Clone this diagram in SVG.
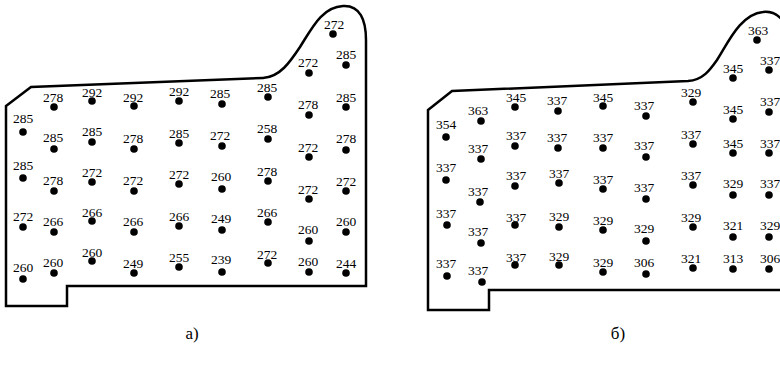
<svg xmlns="http://www.w3.org/2000/svg" width="780" height="371" viewBox="0 0 780 371">
<style>
.o{fill:none;stroke:#000;stroke-width:2.5;stroke-linejoin:miter}
.d{fill:#000}
text{font-family:"Liberation Serif","Times New Roman",serif;font-size:13.5px;fill:#000;text-anchor:middle}
.cap{font-size:17px}
</style>
<rect width="780" height="371" fill="#fff"/>
<g id="outline-a"><path class="o" d="M6,106 L31,87 L263,78 C280,77 290,62 300,47 C312,28 322,7 343,6 C360,5 366,20 366,40 L366,286 L67,286 L67,306 L6,306 Z"/></g>
<g id="outline-b"><path class="o" d="M428,110 L452,91 L688,81 C703,80 710,70 717,60 C727,45 740,14 763,12 C772,11 778,14 784,22 L790,30 L790,290 L489,290 L489,310 L428,310 Z"/></g>
<g id="panel-a">
<g id="a1"><circle class="d" cx="54" cy="107" r="3.8"/><text x="53" y="101.5">278</text></g>
<g id="a2"><circle class="d" cx="92" cy="101" r="3.8"/><text x="92" y="96.5">292</text></g>
<g id="a3"><circle class="d" cx="134" cy="106" r="3.8"/><text x="133" y="101.5">292</text></g>
<g id="a4"><circle class="d" cx="179" cy="101" r="3.8"/><text x="179" y="95.5">292</text></g>
<g id="a5"><circle class="d" cx="222" cy="104" r="3.8"/><text x="220" y="97.5">285</text></g>
<g id="a6"><circle class="d" cx="268" cy="97" r="3.8"/><text x="267" y="91.5">285</text></g>
<g id="a7"><circle class="d" cx="333" cy="34" r="3.8"/><text x="334" y="28.5">272</text></g>
<g id="a8"><circle class="d" cx="346" cy="65" r="3.8"/><text x="346" y="58.5">285</text></g>
<g id="a9"><circle class="d" cx="309" cy="73" r="3.8"/><text x="308" y="66.5">272</text></g>
<g id="a10"><circle class="d" cx="346" cy="107" r="3.8"/><text x="346" y="101.5">285</text></g>
<g id="a11"><circle class="d" cx="309" cy="115" r="3.8"/><text x="308" y="108.5">278</text></g>
<g id="a12"><circle class="d" cx="23" cy="132" r="3.8"/><text x="23" y="122.5">285</text></g>
<g id="a13"><circle class="d" cx="54" cy="149" r="3.8"/><text x="53" y="141.5">285</text></g>
<g id="a14"><circle class="d" cx="92" cy="142" r="3.8"/><text x="92" y="135.5">285</text></g>
<g id="a15"><circle class="d" cx="134" cy="149" r="3.8"/><text x="133" y="142.5">278</text></g>
<g id="a16"><circle class="d" cx="179" cy="143" r="3.8"/><text x="179" y="137.5">285</text></g>
<g id="a17"><circle class="d" cx="222" cy="146" r="3.8"/><text x="220" y="139.5">272</text></g>
<g id="a18"><circle class="d" cx="268" cy="139" r="3.8"/><text x="267" y="132.5">258</text></g>
<g id="a19"><circle class="d" cx="346" cy="150" r="3.8"/><text x="346" y="142.5">278</text></g>
<g id="a20"><circle class="d" cx="309" cy="157" r="3.8"/><text x="308" y="151.5">272</text></g>
<g id="a21"><circle class="d" cx="23" cy="178" r="3.8"/><text x="23" y="169.5">285</text></g>
<g id="a22"><circle class="d" cx="54" cy="191" r="3.8"/><text x="53" y="184.5">278</text></g>
<g id="a23"><circle class="d" cx="92" cy="182" r="3.8"/><text x="92" y="176.5">272</text></g>
<g id="a24"><circle class="d" cx="134" cy="191" r="3.8"/><text x="133" y="184.5">272</text></g>
<g id="a25"><circle class="d" cx="179" cy="184" r="3.8"/><text x="179" y="178.5">272</text></g>
<g id="a26"><circle class="d" cx="222" cy="189" r="3.8"/><text x="221" y="180.5">260</text></g>
<g id="a27"><circle class="d" cx="268" cy="181" r="3.8"/><text x="267" y="175.5">278</text></g>
<g id="a28"><circle class="d" cx="309" cy="199" r="3.8"/><text x="308" y="193.5">272</text></g>
<g id="a29"><circle class="d" cx="346" cy="191" r="3.8"/><text x="346" y="185.5">272</text></g>
<g id="a30"><circle class="d" cx="23" cy="227" r="3.8"/><text x="23" y="220.5">272</text></g>
<g id="a31"><circle class="d" cx="54" cy="232" r="3.8"/><text x="53" y="225.5">266</text></g>
<g id="a32"><circle class="d" cx="92" cy="221" r="3.8"/><text x="92" y="216.5">266</text></g>
<g id="a33"><circle class="d" cx="134" cy="232" r="3.8"/><text x="133" y="225.5">266</text></g>
<g id="a34"><circle class="d" cx="179" cy="226" r="3.8"/><text x="179" y="220.5">266</text></g>
<g id="a35"><circle class="d" cx="222" cy="230" r="3.8"/><text x="221" y="222.5">249</text></g>
<g id="a36"><circle class="d" cx="268" cy="222" r="3.8"/><text x="267" y="216.5">266</text></g>
<g id="a37"><circle class="d" cx="309" cy="241" r="3.8"/><text x="308" y="233.5">260</text></g>
<g id="a38"><circle class="d" cx="346" cy="232" r="3.8"/><text x="346" y="225.5">260</text></g>
<g id="a39"><circle class="d" cx="23" cy="279" r="3.8"/><text x="23" y="271.5">260</text></g>
<g id="a40"><circle class="d" cx="54" cy="273" r="3.8"/><text x="53" y="266.5">260</text></g>
<g id="a41"><circle class="d" cx="92" cy="261" r="3.8"/><text x="92" y="256.5">260</text></g>
<g id="a42"><circle class="d" cx="134" cy="273" r="3.8"/><text x="133" y="267.5">249</text></g>
<g id="a43"><circle class="d" cx="179" cy="267" r="3.8"/><text x="179" y="261.5">255</text></g>
<g id="a44"><circle class="d" cx="222" cy="272" r="3.8"/><text x="221" y="263.5">239</text></g>
<g id="a45"><circle class="d" cx="268" cy="263" r="3.8"/><text x="267" y="258.5">272</text></g>
<g id="a46"><circle class="d" cx="309" cy="272" r="3.8"/><text x="308" y="265.5">260</text></g>
<g id="a47"><circle class="d" cx="346" cy="273" r="3.8"/><text x="346" y="267.5">244</text></g>
</g>
<g id="panel-b">
<g id="b1"><circle class="d" cx="515" cy="107" r="3.8"/><text x="516" y="101.5">345</text></g>
<g id="b2"><circle class="d" cx="558" cy="111" r="3.8"/><text x="557" y="104.5">337</text></g>
<g id="b3"><circle class="d" cx="481" cy="121" r="3.8"/><text x="478" y="114.5">363</text></g>
<g id="b4"><circle class="d" cx="446" cy="137" r="3.8"/><text x="446" y="128.5">354</text></g>
<g id="b5"><circle class="d" cx="515" cy="146" r="3.8"/><text x="516" y="139.5">337</text></g>
<g id="b6"><circle class="d" cx="558" cy="148" r="3.8"/><text x="557" y="141.5">337</text></g>
<g id="b7"><circle class="d" cx="481" cy="159" r="3.8"/><text x="478" y="152.5">337</text></g>
<g id="b8"><circle class="d" cx="603" cy="106" r="3.8"/><text x="603" y="101.5">345</text></g>
<g id="b9"><circle class="d" cx="646" cy="116" r="3.8"/><text x="644" y="109.5">337</text></g>
<g id="b10"><circle class="d" cx="693" cy="102" r="3.8"/><text x="691" y="96.5">329</text></g>
<g id="b11"><circle class="d" cx="733" cy="78" r="3.8"/><text x="733" y="72.5">345</text></g>
<g id="b12"><circle class="d" cx="757" cy="40" r="3.8"/><text x="758" y="34.5">363</text></g>
<g id="b13"><circle class="d" cx="769" cy="70" r="3.8"/><text x="770" y="64.5">337</text></g>
<g id="b14"><circle class="d" cx="733" cy="119" r="3.8"/><text x="733" y="113.5">345</text></g>
<g id="b15"><circle class="d" cx="769" cy="112" r="3.8"/><text x="770" y="105.5">337</text></g>
<g id="b16"><circle class="d" cx="603" cy="148" r="3.8"/><text x="603" y="141.5">337</text></g>
<g id="b17"><circle class="d" cx="646" cy="157" r="3.8"/><text x="644" y="149.5">337</text></g>
<g id="b18"><circle class="d" cx="693" cy="144" r="3.8"/><text x="691" y="138.5">337</text></g>
<g id="b19"><circle class="d" cx="733" cy="153" r="3.8"/><text x="733" y="147.5">345</text></g>
<g id="b20"><circle class="d" cx="769" cy="153" r="3.8"/><text x="770" y="147.5">337</text></g>
<g id="b21"><circle class="d" cx="446" cy="180" r="3.8"/><text x="446" y="171.5">337</text></g>
<g id="b22"><circle class="d" cx="480" cy="202" r="3.8"/><text x="478" y="195.5">337</text></g>
<g id="b23"><circle class="d" cx="515" cy="186" r="3.8"/><text x="516" y="179.5">337</text></g>
<g id="b24"><circle class="d" cx="559" cy="183" r="3.8"/><text x="559" y="177.5">337</text></g>
<g id="b25"><circle class="d" cx="447" cy="225" r="3.8"/><text x="446" y="217.5">337</text></g>
<g id="b26"><circle class="d" cx="481" cy="243" r="3.8"/><text x="478" y="235.5">337</text></g>
<g id="b27"><circle class="d" cx="515" cy="225" r="3.8"/><text x="516" y="221.5">337</text></g>
<g id="b28"><circle class="d" cx="559" cy="227" r="3.8"/><text x="559" y="220.5">329</text></g>
<g id="b29"><circle class="d" cx="447" cy="276" r="3.8"/><text x="446" y="267.5">337</text></g>
<g id="b30"><circle class="d" cx="482" cy="282" r="3.8"/><text x="478" y="274.5">337</text></g>
<g id="b31"><circle class="d" cx="515" cy="265" r="3.8"/><text x="516" y="261.5">337</text></g>
<g id="b32"><circle class="d" cx="559" cy="265" r="3.8"/><text x="559" y="260.5">329</text></g>
<g id="b33"><circle class="d" cx="603" cy="189" r="3.8"/><text x="603" y="183.5">337</text></g>
<g id="b34"><circle class="d" cx="646" cy="199" r="3.8"/><text x="644" y="191.5">337</text></g>
<g id="b35"><circle class="d" cx="693" cy="185" r="3.8"/><text x="691" y="179.5">337</text></g>
<g id="b36"><circle class="d" cx="733" cy="195" r="3.8"/><text x="733" y="187.5">329</text></g>
<g id="b37"><circle class="d" cx="769" cy="195" r="3.8"/><text x="770" y="187.5">337</text></g>
<g id="b38"><circle class="d" cx="603" cy="230" r="3.8"/><text x="603" y="224.5">329</text></g>
<g id="b39"><circle class="d" cx="646" cy="241" r="3.8"/><text x="644" y="232.5">329</text></g>
<g id="b40"><circle class="d" cx="693" cy="227" r="3.8"/><text x="691" y="221.5">329</text></g>
<g id="b41"><circle class="d" cx="733" cy="237" r="3.8"/><text x="733" y="229.5">321</text></g>
<g id="b42"><circle class="d" cx="769" cy="237" r="3.8"/><text x="770" y="229.5">329</text></g>
<g id="b43"><circle class="d" cx="603" cy="272" r="3.8"/><text x="603" y="266.5">329</text></g>
<g id="b44"><circle class="d" cx="646" cy="274" r="3.8"/><text x="644" y="266.5">306</text></g>
<g id="b45"><circle class="d" cx="693" cy="268" r="3.8"/><text x="691" y="262.5">321</text></g>
<g id="b46"><circle class="d" cx="733" cy="269" r="3.8"/><text x="733" y="262.5">313</text></g>
<g id="b47"><circle class="d" cx="769" cy="269" r="3.8"/><text x="770" y="262.5">306</text></g>
</g>
<g id="captions">
<text class="cap" x="192" y="339">а)</text>
<text class="cap" x="618" y="339">б)</text>
</g>
</svg>
